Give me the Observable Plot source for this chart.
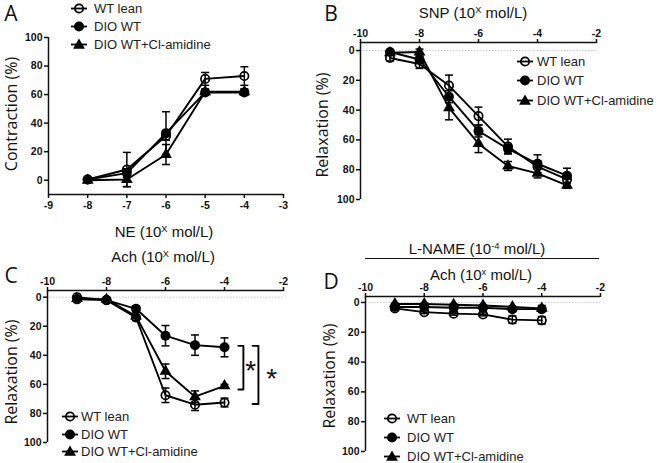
<!DOCTYPE html>
<html><head><meta charset="utf-8">
<script src="https://cdn.jsdelivr.net/npm/d3@7"></script>
<script src="https://cdn.jsdelivr.net/npm/@observablehq/plot@0.6"></script>
<style>
body{margin:0;background:#fff;}
#root{position:relative;width:660px;height:463px;overflow:hidden;background:#fff;font-family:"Liberation Sans",Arial,sans-serif;color:#111;}
.abs{position:absolute;white-space:nowrap;line-height:1;}
.c{transform:translate(-50%,-50%);}
.letter{font-family:"Open Sans",sans-serif;font-size:21px;}
.ylab{font-family:"Open Sans",sans-serif;font-size:16px;transform:translate(-50%,-50%) rotate(-90deg);}
.title{font-size:15px;}
.title sup{font-size:0.62em;vertical-align:0;position:relative;top:-0.55em;}
.leg{font-size:13px;color:#222;display:flex;align-items:center;transform:translateY(-50%);}
.plot{position:absolute;}
</style></head><body><div id="root"></div>
<script>
const seriesNames = ["WT lean", "DIO WT", "DIO WT+Cl-amidine"];

// Panel A: NE contraction
const xA = [-8, -7, -6, -5, -4];
const aWT = [0.5, 7.5, 31, 71, 73];
const aWTerr = [1, 12, 3, 4.5, 6.5];
const aDIO = [0.5, 5, 33, 61.5, 61.5];
const aDIOerr = [1, 3, 15, 2, 2];
const aCL = [0, 0.5, 18, 62, 62];
const aCLerr = [1, 5, 7, 2, 2];
const xTicksA = [-9, -8, -7, -6, -5, -4, -3];
const yTicksA = [0, 20, 40, 60, 80, 100];

// Panel B: SNP relaxation
const xB = [-9, -8, -7, -6, -5, -4, -3];
const bWT = [5, 9, 23.5, 44, 64.5, 78, 86.5];
const bWTerr = [2, 3, 7, 6, 5, 4, 4];
const bDIO = [1, 6, 31, 54, 66, 76, 84];
const bDIOerr = [1, 2, 4, 4, 3, 6, 5];
const bCL = [1.5, 1, 38.5, 62.5, 77.5, 82.5, 90.5];
const bCLerr = [1, 2, 8, 6, 3, 3, 2];

// Panel C: Ach relaxation
const xC = [-9, -8, -7, -6, -5, -4];
const cWT = [0, 2, 14, 67.5, 74, 72.5];
const cWTerr = [1, 1, 2, 5, 4, 3];
const cDIO = [1.5, 2, 8, 26.5, 33, 34.5];
const cDIOerr = [1, 1, 2, 7, 7, 6.5];
const cCL = [1, 1.5, 13, 51, 68.5, 61];
const cCLerr = [1, 1, 3, 5, 4, 1];

// Panel D: Ach + L-NAME
const xD = [-9, -8, -7, -6, -5, -4];
const dWT = [4, 6.5, 7.5, 8, 11.5, 12];
const dWTerr = [1, 1, 1, 1, 2.5, 2.5];
const dDIO = [3, 3, 3.5, 3.5, 4.5, 4.5];
const dDIOerr = [0.5, 0.5, 0.5, 0.5, 0.5, 0.5];
const dCL = [1, 1, 1.5, 2, 3, 4];
const dCLerr = [0.5, 0.5, 0.5, 0.5, 0.5, 2];

const xTicksR = [-10, -8, -6, -4, -2];
const yTicksR = [0, 20, 40, 60, 80, 100];

function table(xs, groups) {
  const rows = [];
  groups.forEach(([vals, errs], i) => {
    xs.forEach((x, j) => rows.push({x, y: vals[j], e: errs[j], s: seriesNames[i]}));
  });
  return rows;
}

const capSymbol = {draw(ctx) { ctx.moveTo(-4, 0); ctx.lineTo(4, 0); }};
const fmt = d => `${d}`;

function seriesMarks(data) {
  const marks = [];
  for (const name of seriesNames) {
    marks.push(Plot.line(data.filter(d => d.s === name), {x: "x", y: "y", stroke: "#000", strokeWidth: 1.9}));
  }
  marks.push(Plot.ruleX(data, {x: "x", y1: d => d.y - d.e, y2: d => d.y + d.e, stroke: "#000", strokeWidth: 1.5}));
  marks.push(Plot.dot(data, {x: "x", y: d => d.y - d.e, symbol: capSymbol, fill: "none", stroke: "#000", strokeWidth: 1.5}));
  marks.push(Plot.dot(data, {x: "x", y: d => d.y + d.e, symbol: capSymbol, fill: "none", stroke: "#000", strokeWidth: 1.5}));
  marks.push(Plot.dot(data.filter(d => d.s === seriesNames[2]), {x: "x", y: "y", symbol: "triangle", r: 4.4, fill: "#000", stroke: "none"}));
  marks.push(Plot.dot(data.filter(d => d.s === seriesNames[1]), {x: "x", y: "y", r: 5, fill: "#000", stroke: "none"}));
  marks.push(Plot.dot(data.filter(d => d.s === seriesNames[0]), {x: "x", y: "y", r: 4.2, fill: "none", stroke: "#000", strokeWidth: 1.7}));
  return marks;
}

const style = {fontFamily: "'Liberation Sans', Arial, sans-serif", fontSize: "10.5px", fontWeight: "bold", background: "transparent", overflow: "visible", color: "#111"};
const root = document.getElementById("root");

function place(svg, left, top) {
  svg.classList.add("plot");
  svg.style.left = left + "px";
  svg.style.top = top + "px";
  root.appendChild(svg);
}

// Panel A
{
  const xDom = [-9, -3], yDom = [-10, 100];
  const data = table(xA, [[aWT, aWTerr], [aDIO, aDIOerr], [aCL, aCLerr]]);
  const p = Plot.plot({
    width: 330, height: 230, marginLeft: 48, marginRight: 47, marginTop: 37, marginBottom: 36,
    x: {domain: xDom}, y: {domain: yDom}, style,
    marks: [
      Plot.axisX({ticks: xTicksA, tickFormat: fmt, tickSize: 4, tickPadding: 3, strokeWidth: 1.5, label: null}),
      Plot.axisY({ticks: yTicksA, tickFormat: fmt, tickSize: 4, tickPadding: 2, strokeWidth: 1.5, label: null}),
      Plot.ruleX([xDom[0]], {y1: yDom[0], y2: yDom[1], strokeWidth: 1.5}),
      Plot.ruleY([yDom[0]], {x1: xDom[0], x2: xDom[1], strokeWidth: 1.5}),
      ...seriesMarks(data)
    ]
  });
  place(p, 0, 0);
}

function relaxPlot(xs, groups, opts, extra = []) {
  const xDom = [-10, -2], yDom = opts.yDom;
  const data = table(xs, groups);
  return Plot.plot({
    width: 330, height: 233 - (opts.h0 || 0), marginLeft: opts.mL, marginRight: opts.mR, marginTop: opts.mT, marginBottom: opts.mB,
    x: {domain: xDom}, y: {domain: yDom, reverse: true}, style,
    marks: [
      Plot.ruleY([0], {x1: xDom[0], x2: xDom[1], stroke: "#c8c8c8", strokeWidth: 1, strokeDasharray: "1.5,1.5"}),
      Plot.axisX({anchor: "top", ticks: xTicksR, tickFormat: fmt, tickSize: 4, tickPadding: 2, strokeWidth: 1.5, label: null}),
      Plot.axisY({ticks: yTicksR, tickFormat: fmt, tickSize: 4, tickPadding: 2, strokeWidth: 1.5, label: null}),
      Plot.ruleX([xDom[0]], {y1: yDom[0], y2: yDom[1], strokeWidth: 1.5}),
      Plot.ruleY([yDom[0]], {x1: xDom[0], x2: xDom[1], strokeWidth: 1.5}),
      ...seriesMarks(data),
      ...extra
    ]
  });
}

// Panel B
place(relaxPlot(xB, [[bWT, bWTerr], [bDIO, bDIOerr], [bCL, bCLerr]],
  {yDom: [-5.4, 100], mL: 30, mR: 64, mT: 42, mB: 31, h0: 3}), 330, 0);

// Panel C with significance brackets
{
  const last = cWT.length - 1, xl = xC[last];
  const brackets = [
    {top: cDIO[last] - 1, bottom: cCL[last] + 2.5, x0: xl + 0.47, x1: xl + 0.64},
    {top: cDIO[last] - 1, bottom: cWT[last] + 1, x0: xl + 0.95, x1: xl + 1.15}
  ];
  const bracketLines = brackets.map(b => [
    {x: b.x0, y: b.top}, {x: b.x1, y: b.top}, {x: b.x1, y: b.bottom}, {x: b.x0, y: b.bottom}
  ]);
  const extra = [
    ...bracketLines.map(pts => Plot.line(pts, {x: "x", y: "y", stroke: "#000", strokeWidth: 1.9})),
    Plot.text(brackets, {x: b => b.x1 + 0.25 + (b.x0 > xl + 0.8 ? 0.2 : 0), y: b => (b.top + b.bottom) / 2 + 2.5, text: () => "*", fontSize: 28, fontWeight: "normal", fill: "#111"})
  ];
  place(relaxPlot(xC, [[cWT, cWTerr], [cDIO, cDIOerr], [cCL, cCLerr]],
    {yDom: [-4.6, 100], mL: 47, mR: 47, mT: 60, mB: 21}, extra), 0, 230);
}

// Panel D
place(relaxPlot(xD, [[dWT, dWTerr], [dDIO, dDIOerr], [dCL, dCLerr]],
  {yDom: [-4, 100], mL: 35, mR: 60, mT: 66, mB: 12}), 330, 230);

// Text and legends
function addText(html, cls, x, y) {
  const d = document.createElement("div");
  d.className = "abs " + cls;
  d.style.left = x + "px";
  d.style.top = y + "px";
  d.innerHTML = html;
  root.appendChild(d);
  return d;
}
addText("A", "letter c", 11, 13);
addText("B", "letter c", 331, 13);
addText("C", "letter c", 11, 275);
addText("D", "letter c", 331, 281);

addText("Contraction (%)", "ylab", 11, 114);
addText("Relaxation (%)", "ylab", 322, 125);
addText("Relaxation (%)", "ylab", 11, 372);
addText("Relaxation (%)", "ylab", 329, 376);

addText("NE (10<sup>X</sup> mol/L)", "title c", 164, 232);
addText("SNP (10<sup>X</sup> mol/L)", "title c", 473, 13);
addText("Ach (10<sup>X</sup> mol/L)", "title c", 163, 257);
addText("L-NAME (10<sup>-4</sup> mol/L)", "title c", 477, 249);
addText("Ach (10<sup>x</sup> mol/L)", "title c", 481, 275);
const bar = document.createElement("div");
bar.className = "abs";
Object.assign(bar.style, {left: "365px", top: "258px", width: "234px", height: "0", borderTop: "1.5px solid #111"});
root.appendChild(bar);

function symbolSVG(i) {
  const w = 18, cy = 6;
  let m;
  if (i === 0) m = `<circle cx="9" cy="${cy}" r="4.2" fill="none" stroke="#000" stroke-width="1.7"/>`;
  else if (i === 1) m = `<circle cx="9" cy="${cy}" r="5" fill="#000"/>`;
  else m = `<path d="${d3.symbol(d3.symbolTriangle, Math.PI * 4.4 * 4.4)()}" transform="translate(9,${cy + 0.8})" fill="#000"/>`;
  return `<svg width="${w}" height="12" style="overflow:visible"><line x1="1" x2="17" y1="${cy}" y2="${cy}" stroke="#000" stroke-width="1.8"/>${m}</svg>`;
}
function legend(symX, textX, ys) {
  seriesNames.forEach((name, i) => {
    addText(`${symbolSVG(i)}<span style="margin-left:${textX - symX - 9}px">${name}</span>`, "leg", symX - 9, ys[i]);
  });
}
legend(79, 94, [8, 26, 44]);
legend(525, 537, [61, 80, 100]);
legend(70, 81, [416, 434, 451]);
legend(392, 407, [418, 437, 456]);
</script></body></html>
